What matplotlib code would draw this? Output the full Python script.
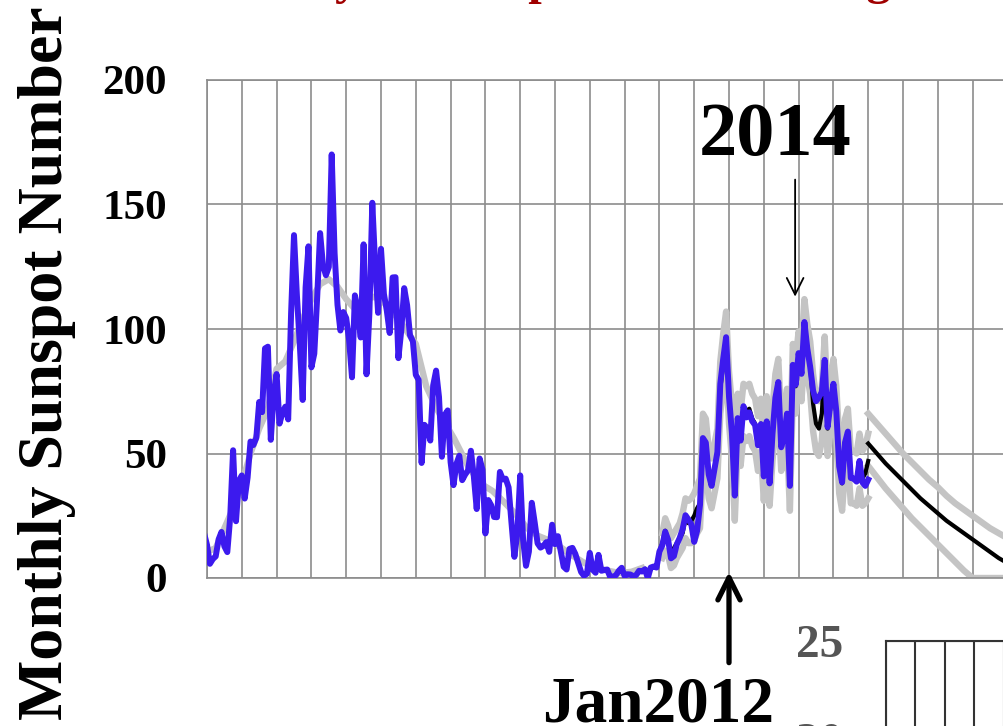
import matplotlib
matplotlib.use("Agg")
import matplotlib.pyplot as plt
import numpy as np

plt.rcParams["font.family"] = ["Liberation Serif", "DejaVu Serif"]
plt.rcParams["font.weight"] = "bold"

# ---------------- data ----------------
# Monthly sunspot numbers, Nov 1996 .. Dec 2015 (one value per month)
ssn_start = 1996 + 11 / 12
ssn_monthly = [
    17.9, 13.3,
    5.7, 7.6, 8.7, 15.5, 18.5, 12.7, 10.4, 24.4, 51.3, 22.8, 39.0, 41.2,            # 1997
    31.9, 40.3, 54.8, 53.4, 56.3, 70.7, 66.6, 92.2, 92.9, 55.5, 74.0, 81.9,         # 1998
    62.0, 66.3, 68.8, 63.7, 106.4, 137.7, 113.5, 93.7, 71.5, 116.7, 133.2, 84.6,    # 1999
    90.1, 112.9, 138.5, 125.5, 121.6, 124.9, 170.1, 130.5, 109.7, 99.4, 106.8, 104.4,  # 2000
    95.6, 80.6, 113.5, 107.7, 96.6, 134.0, 81.8, 106.4, 150.7, 125.5, 106.5, 132.2,    # 2001
    114.1, 107.4, 98.4, 120.7, 120.8, 88.3, 99.6, 116.4, 109.6, 97.5, 95.0, 81.6,      # 2002
    79.5, 46.2, 61.5, 60.0, 55.2, 77.4, 83.3, 72.7, 48.7, 65.5, 67.3, 46.5,         # 2003
    37.3, 45.8, 49.1, 39.3, 41.5, 43.2, 51.1, 40.9, 27.7, 48.0, 43.5, 17.9,         # 2004
    31.3, 29.2, 24.5, 24.4, 42.6, 39.6, 39.9, 36.4, 22.1, 8.5, 18.0, 41.2,          # 2005
    15.3, 4.9, 10.6, 30.2, 22.3, 13.9, 12.2, 12.9, 14.4, 10.5, 21.4, 13.6,          # 2006
    16.8, 10.7, 4.5, 3.4, 11.7, 12.1, 9.7, 6.0, 2.4, 0.9, 1.7, 10.1,                # 2007
    3.3, 2.1, 9.3, 2.9, 3.2, 3.4, 0.5, 0.5, 1.1, 2.9, 4.1, 0.8,                     # 2008
    1.5, 1.4, 0.7, 1.2, 2.9, 2.6, 3.5, 0.0, 4.2, 4.6, 4.2, 10.6,                    # 2009
    13.1, 18.6, 15.4, 7.9, 8.8, 13.5, 16.1, 19.6, 25.2, 23.5, 21.6, 14.5,           # 2010
    19.0, 29.4, 56.2, 54.4, 41.6, 37.0, 43.9, 50.6, 78.0, 88.0, 96.7, 73.0,         # 2011
    58.3, 33.1, 64.2, 55.2, 69.0, 64.5, 66.5, 63.0, 61.4, 53.3, 61.8, 40.8,         # 2012
    62.9, 38.0, 57.9, 72.4, 78.7, 52.5, 57.0, 66.0, 37.0, 85.6, 77.6, 90.3,         # 2013
    82.0, 102.8, 92.2, 84.7, 75.2, 71.0, 72.5, 74.7, 87.6, 60.6, 70.1, 78.0,        # 2014
    67.0, 44.8, 38.4, 54.4, 58.8, 40.2, 39.9, 38.7, 47.0, 38.4, 37.0, 39.5,         # 2015
]

# Cycle 23 smoothed curve
smooth_years = [1996.9, 1997.25, 1997.5, 1997.75, 1998.0, 1998.25, 1998.5, 1998.75,
                1999.0, 1999.25, 1999.5, 1999.75, 2000.0, 2000.25, 2000.5, 2000.75,
                2001.0, 2001.25, 2001.5, 2001.75, 2002.0, 2002.25, 2002.5, 2002.75,
                2003.0, 2003.3, 2003.6, 2003.85, 2004.1, 2004.5, 2004.85, 2005.2,
                2005.5, 2005.85, 2006.2, 2006.5, 2006.85, 2007.2, 2007.5, 2007.85,
                2008.2, 2008.5, 2008.85, 2009.2, 2009.5]
smooth_ssn = [10, 12, 20, 28, 38, 50, 60, 68,
              84, 87, 95, 104, 112, 118, 120, 117,
              112, 108, 110, 113, 112, 108, 104, 99,
              94, 77, 68, 62, 56, 45, 38, 35,
              31, 26, 20, 17, 15, 12, 9, 6,
              4, 3, 2, 2.5, 4]

# Cycle 24 reference series (monthly, Jul 2009 .. Dec 2015)
ref_start = 2009 + 7 / 12
ref_monthly = [
    3.5, 1.0, 4.2, 4.6, 4.2, 10.6,
    14, 19, 15, 10, 12, 14, 16, 18, 24, 22, 23, 25,
    28, 30, 52, 52, 43, 40, 44, 50, 76, 86, 95, 72,
    60, 35, 64, 57, 68, 67, 68, 64, 62, 55, 62, 42,
    62, 40, 58, 72, 78, 54, 57, 66, 38, 84, 77, 88,
    82, 100, 92, 85, 70, 62, 60, 66, 86, 60, 70, 77,
    67, 45, 38, 54, 58, 40, 40, 39, 47, 40, 42, 47,
]

# Upper / lower range around cycle 24 (monthly, Jan 2010 .. Dec 2015)
band_start = 2010 + 1 / 12
band_upper = [
    18, 24, 21, 16, 18, 20, 22, 26, 32, 31, 32, 34,
    37, 40, 66, 64, 52, 48, 54, 60, 87, 98, 107, 83,
    70, 45, 74, 67, 78, 77, 78, 74, 72, 65, 72, 52,
    73, 50, 68, 82, 88, 64, 67, 76, 48, 94, 88, 99,
    93, 112, 102, 95, 82, 73, 71, 77, 97, 71, 80, 88,
    77, 56, 49, 64, 68, 51, 51, 50, 58, 51, 53, 58,
]
band_lower = [
    8, 11, 9, 4, 5, 8, 10, 12, 16, 14, 14, 15,
    18, 20, 44, 43, 32, 28, 34, 40, 66, 76, 86, 62,
    48, 23, 53, 45, 57, 55, 57, 53, 51, 43, 51, 31,
    51, 29, 47, 61, 67, 43, 46, 55, 27, 73, 66, 78,
    71, 90, 81, 74, 59, 51, 49, 55, 75, 49, 59, 66,
    56, 34, 27, 43, 47, 30, 30, 29, 36, 29, 30, 32,
]

# Predicted decline with its upper / lower range
pred_years = [2016.0, 2016.25, 2016.5, 2016.75, 2017.0, 2017.25, 2017.5, 2017.75,
              2018.0, 2018.25, 2018.5, 2018.75, 2019.0, 2019.25, 2019.5, 2019.75, 2020.0]
pred_mid = [54, 50, 46, 42.5, 39, 35.5, 32, 29, 26, 23, 20.5, 18, 15.5, 13, 10.5, 8, 6]
pred_high = [66, 62, 58, 54, 50, 46.5, 43, 39.5, 36.5, 33, 30, 27.5, 25, 22.5, 20, 18, 16]
pred_low = [45, 40.5, 36, 32, 28, 24, 20.5, 17, 13.5, 10, 6.5, 3, 0, 0, 0, 0, 0]

y_ticks = [0, 50, 100, 150, 200]
inset_ticks = [10, 15, 20, 25]

# ---------------- figure ----------------
W, H = 1004, 726
fig = plt.figure(figsize=(W / 100, H / 100), dpi=100)

PX_YEAR = 34.8
x0, x1 = 1997, 2021
ax = fig.add_axes([207 / W, (H - 578) / H, (x1 - x0) * PX_YEAR / W, (578 - 80) / H])
ax.set_xlim(x0, x1)
ax.set_ylim(0, 200)

grid_c = "#8c8c8c"
ax.set_xticks(np.arange(1997, 2021))
ax.set_yticks(y_ticks)
ax.grid(True, color=grid_c, lw=1.2)
ax.set_axisbelow(True)
ax.tick_params(axis="x", length=0, labelbottom=False)
ax.tick_params(axis="y", length=0, pad=29, labelsize=31)
for s in ax.spines.values():
    s.set_color(grid_c)
    s.set_linewidth(1.2)
ax.spines["right"].set_visible(False)

gray = "#c4c4c4"
blue = "#3c1aee"

ssn_t = ssn_start + np.arange(len(ssn_monthly)) / 12
ref_t = ref_start + np.arange(len(ref_monthly)) / 12
band_t = band_start + np.arange(len(band_upper)) / 12

lw_gray, lw_black, lw_blue = 4.6, 3.0, 4.3
ax.plot(smooth_years, smooth_ssn, color=gray, lw=lw_gray, zorder=2)
ax.plot(band_t, band_upper, color=gray, lw=lw_gray, zorder=2)
ax.plot(band_t, band_lower, color=gray, lw=lw_gray, zorder=2)
ax.plot(pred_years, pred_high, color=gray, lw=lw_gray, zorder=2)
ax.plot(pred_years, pred_low, color=gray, lw=lw_gray, zorder=2)
ax.plot(ref_t, ref_monthly, color="black", lw=lw_black, zorder=3)
ax.plot(pred_years, pred_mid, color="black", lw=lw_black, zorder=3)
ax.plot(ssn_t, ssn_monthly, color=blue, lw=lw_blue, zorder=4)

# Annotations
fig.text(775 / W, 1 - 155 / H, "2014", ha="center", va="baseline", fontsize=55)
ax.annotate("", xy=(2013.9, 113), xytext=(2013.9, 160),
            arrowprops=dict(arrowstyle="->", lw=1.3, color="black", mutation_scale=30,
                            shrinkA=0, shrinkB=0))
fig.text(658 / W, 1 - 721 / H, "Jan2012", ha="center", va="baseline", fontsize=47)
ax.annotate("", xy=(2012.0, 2.5), xytext=(2012.0, -34),
            arrowprops=dict(arrowstyle="->", lw=3.8, color="black", mutation_scale=40,
                            shrinkA=0, shrinkB=0),
            annotation_clip=False)

# Title and axis label
fig.text(548 / W, 1 + 6 / H, "ISES Solar Cycle Sunspot Number Progression",
         ha="center", va="baseline", fontsize=35, color="#a00000")
fig.text(47 / W, 1 - 363 / H, "Monthly Sunspot Number", rotation=90,
         ha="center", va="center", fontsize=46)

# Lower panel
ax2 = fig.add_axes([886 / W, (H - 935) / H, 6 * 29.4 / W, (935 - 641) / H])
ax2.set_xlim(0, 6)
ax2.set_ylim(10, 25)
ax2.set_xticks(np.arange(0, 7))
ax2.set_yticks(inset_ticks)
ax2.grid(True, color="#333333", lw=1.5)
ax2.tick_params(axis="x", length=0, labelbottom=False)
ax2.tick_params(axis="y", length=0, pad=31, labelsize=34, labelcolor="#555555")
for s in ax2.spines.values():
    s.set_color("#333333")
    s.set_linewidth(1.5)

fig.savefig("out.png", dpi=100)
